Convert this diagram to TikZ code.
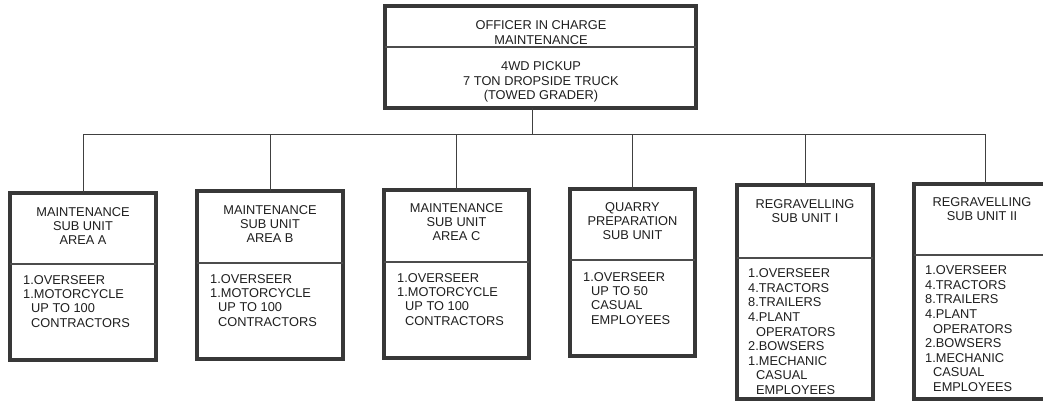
\documentclass[tikz,border=0pt]{standalone}
\usepackage{fontspec}
\setmainfont{Liberation Sans}
\begin{document}
\begin{tikzpicture}[x=1pt,y=-1pt,
  frame/.style={draw=black!78, line width=4.2pt, inner sep=0pt, outer sep=0pt, anchor=north west},
  divider/.style={draw=black!70, line width=1.3pt},
  link/.style={draw=black!75, line width=0.9pt},
  txt/.style={inner sep=0pt, font=\fontsize{12.8}{14.4}\selectfont, text=black!88},
  title/.style={txt, anchor=north, align=center},
  items/.style={txt, anchor=north west, align=left},
  longitems/.style={items, font=\fontsize{12.8}{14.6}\selectfont}]
\useasboundingbox (0,0) rectangle (1043,403);
\fill[white] (0,0) rectangle (1043,403);
\newcommand\ind{\hspace*{8pt}}
% top box
\node[frame, minimum width=311pt, minimum height=102pt] (top) at (385,6) {};
\draw[divider] (top.west |- 0,47) -- (top.east |- 0,47);
\node[title] (topt) at (541,20.5) {OFFICER IN CHARGE\\MAINTENANCE};
\node[title] (topv) at (541,61.5) {4WD PICKUP\\7 TON DROPSIDE TRUCK\\(TOWED GRADER)};
% unit boxes
\node[frame, minimum width=146pt, minimum height=167pt] (a) at (10,193) {};
\draw[divider] (a.west |- 0,264) -- (a.east |- 0,264);
\node[title] (at) at (a.north |- 0,207) {MAINTENANCE\\SUB UNIT\\AREA A};
\node[items] (al) at (23,275) {1.OVERSEER\\1.MOTORCYCLE\\\ind UP TO 100\\\ind CONTRACTORS};
\node[frame, minimum width=146pt, minimum height=168pt] (b) at (197,191) {};
\draw[divider] (b.west |- 0,263) -- (b.east |- 0,263);
\node[title] (bt) at (b.north |- 0,205) {MAINTENANCE\\SUB UNIT\\AREA B};
\node[items] (bl) at (210,274) {1.OVERSEER\\1.MOTORCYCLE\\\ind UP TO 100\\\ind CONTRACTORS};
\node[frame, minimum width=145pt, minimum height=168pt] (c) at (384,190) {};
\draw[divider] (c.west |- 0,262) -- (c.east |- 0,262);
\node[title] (ct) at (c.north |- 0,203) {MAINTENANCE\\SUB UNIT\\AREA C};
\node[items] (cl) at (397,273) {1.OVERSEER\\1.MOTORCYCLE\\\ind UP TO 100\\\ind CONTRACTORS};
\node[frame, minimum width=125pt, minimum height=167pt] (q) at (570,189) {};
\draw[divider] (q.west |- 0,260) -- (q.east |- 0,260);
\node[title] (qt) at (q.north |- 0,202) {QUARRY\\PREPARATION\\SUB UNIT};
\node[items] (ql) at (583,272) {1.OVERSEER\\\ind UP TO 50\\\ind CASUAL\\\ind EMPLOYEES};
\node[frame, minimum width=136pt, minimum height=214pt] (r1) at (737,185) {};
\draw[divider] (r1.west |- 0,258) -- (r1.east |- 0,258);
\node[title] (r1t) at (r1.north |- 0,199) {REGRAVELLING\\SUB UNIT I};
\node[longitems] (r1l) at (748,268.5) {1.OVERSEER\\4.TRACTORS\\8.TRAILERS\\4.PLANT\\\ind OPERATORS\\2.BOWSERS\\1.MECHANIC\\\ind CASUAL\\\ind EMPLOYEES};
\node[frame, minimum width=140pt, minimum height=215pt] (r2) at (914,184) {};
\draw[divider] (r2.west |- 0,255) -- (r2.east |- 0,255);
\node[title] (r2t) at (982,197) {REGRAVELLING\\SUB UNIT II};
\node[longitems] (r2l) at (925,265.5) {1.OVERSEER\\4.TRACTORS\\8.TRAILERS\\4.PLANT\\\ind OPERATORS\\2.BOWSERS\\1.MECHANIC\\\ind CASUAL\\\ind EMPLOYEES};
% connectors
\coordinate (j) at (532,134);
\draw[link] (j |- top.south) -- (j);
\draw[link] (a.north |- j) -- (985,134);
\draw[link] (a.north) -- (a.north |- j);
\draw[link] (b.north) -- (b.north |- j);
\draw[link] (c.north) -- (c.north |- j);
\draw[link] (q.north) -- (q.north |- j);
\draw[link] (r1.north) -- (r1.north |- j);
\draw[link] (r2.north -| 985,0) -- (985,134);
\end{tikzpicture}
\end{document}
